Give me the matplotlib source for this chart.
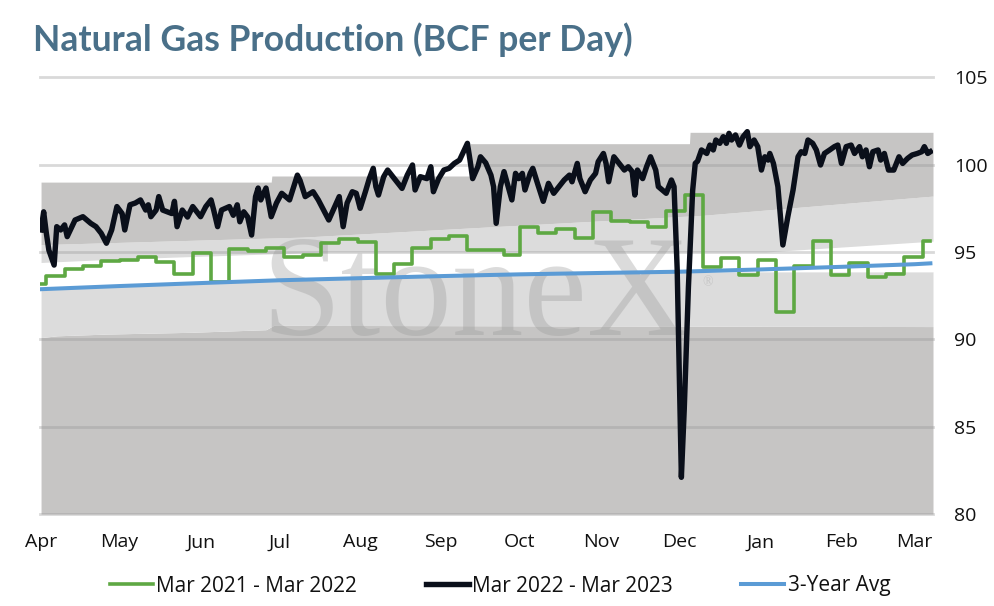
import matplotlib
matplotlib.use("Agg")
import matplotlib.pyplot as plt
import numpy as np

# ---------------- data ----------------
month_labels = ["Apr", "May", "Jun", "Jul", "Aug", "Sep", "Oct", "Nov", "Dec", "Jan", "Feb", "Mar"]
month_days = [0, 30, 61, 91, 122, 153, 183, 214, 244, 275, 306, 334]
y_ticks = [80, 85, 90, 95, 100, 105]

# Mar 2022 - Mar 2023 (daily production, BCF/d), day index from Apr 1
cur_days = [0, 1, 2, 3, 5, 6, 7.5, 9, 10, 13, 16, 19, 21, 23, 25, 27, 29, 31, 32, 34,
            36, 38, 40, 41, 42, 44, 45, 46.5, 50, 51, 52, 54, 56, 58, 61, 63, 65, 66, 67.5, 69,
            72, 73.5, 75, 76, 77.5, 79, 80.5, 82, 83, 84, 86, 88, 90, 92, 95, 98, 99, 101, 104, 106,
            108, 110, 112, 114, 115.5, 117, 119, 120.5, 122, 124, 125.5, 127, 128, 129, 131, 132.5, 136, 138, 140, 142,
            143, 145, 147.5, 149, 150, 152, 154, 156, 158, 160, 163, 164, 165, 167, 168, 170, 172, 173, 174, 175.6,
            177, 180, 181.4, 182.6, 184, 185, 187, 188, 190, 192, 194, 196, 198, 200, 202, 203, 205, 206, 208, 210,
            212, 213, 215, 216, 217, 219, 221, 223, 224.5, 226, 227, 228, 230, 231.5, 233, 235, 236, 239, 241, 242,
            243.2, 244.8, 245.9, 247.5, 249.1, 250.1, 251, 252.5, 254.5, 255.7, 257, 258, 259.5, 260.8, 262, 263, 264, 265.5, 267, 268.4,
            270, 271, 272.6, 274, 275.4, 276.7, 278, 278.6, 280, 281.7, 283.6, 285.5, 287.5, 289.4, 290.6, 292, 293.2, 295, 296.4, 298,
            299.5, 301.5, 303.3, 304.6, 306, 307.8, 309.7, 311, 312.9, 314, 315.4, 316.7, 318, 320, 321, 322.4, 324, 326, 328, 329.4,
            331.3, 333, 335, 336.7, 337.7, 339, 340]
cur_vals = [96.26, 97.3, 96.1, 95.1, 94.25, 96.45, 96.26, 96.55, 95.88, 96.83, 97.02, 96.64, 96.45, 96.07, 95.5, 96.26, 97.6, 97.2, 96.26, 97.7,
            97.8, 97.98, 97.4, 97.7, 97.02, 97.4, 98.17, 97.4, 97.2, 97.9, 96.45, 97.4, 97.0, 97.6, 97.02, 97.6, 97.98, 97.4, 96.45, 97.4,
            97.6, 97.1, 97.7, 96.73, 97.3, 97.0, 95.97, 98.17, 98.66, 97.98, 98.66, 97.02, 97.8, 98.36, 97.98, 99.4, 99.1, 98.17, 98.45, 97.98,
            97.4, 96.83, 97.5, 98.17, 96.45, 97.8, 98.45, 98.36, 97.5, 98.45, 99.2, 99.79, 98.74, 98.26, 99.31, 99.69, 99.02, 98.64, 99.4, 99.98,
            98.55, 99.31, 99.2, 99.88, 98.45, 99.2, 99.69, 99.79, 100.07, 100.26, 101.22, 100.26, 99.2, 99.88, 100.45, 100.1, 99.4, 98.74, 96.64, 98.74,
            99.6, 97.98, 99.5, 99.2, 99.5, 98.55, 99.5, 99.79, 98.83, 97.9, 98.93, 98.36, 98.74, 99.12, 99.4, 99.02, 100.07, 99.2, 98.45, 99.12,
            99.5, 100.17, 100.64, 100.07, 99.02, 100.45, 100.07, 99.69, 99.88, 99.6, 98.26, 99.69, 99.2, 99.88, 100.45, 99.69, 98.74, 98.36, 99.12, 98.74,
            94.0, 82.1, 86.0, 93.0, 98.5, 100.07, 100.2, 100.84, 100.64, 101.12, 100.84, 101.41, 101.22, 101.6, 101.22, 101.79, 101.41, 101.7, 101.12, 101.6,
            101.89, 101.03, 101.41, 101.03, 99.69, 100.45, 100.26, 100.64, 100.07, 98.74, 95.4, 97.02, 98.55, 100.45, 100.74, 100.64, 101.41, 101.22, 100.84, 99.98,
            100.64, 100.84, 101.03, 101.12, 100.07, 101.03, 101.12, 100.64, 101.03, 100.45, 100.84, 99.88, 100.74, 100.84, 100.26, 100.64, 99.69, 99.69, 100.45, 100.07,
            100.36, 100.55, 100.64, 100.74, 101.03, 100.64, 100.74]

# Mar 2021 - Mar 2022 (weekly steps)
prev_days = [0, 2, 9, 16, 23, 30, 37, 44, 51, 58, 65, 72, 79, 86, 93, 100, 107, 114, 121, 128,
             135, 142, 149, 156, 163, 170, 177, 183, 190, 197, 204, 211, 218, 225, 232, 239, 246, 253, 260, 267,
             274, 281, 288, 295, 302, 309, 316, 323, 330, 337, 340]
prev_vals = [93.17, 93.64, 94.0, 94.2, 94.5, 94.55, 94.7, 94.41, 93.74, 94.93, 93.3, 95.17, 95.07, 95.25, 94.7, 94.83, 95.5, 95.74, 95.55, 93.75,
             94.31, 95.25, 95.74, 95.93, 95.1, 95.1, 94.83, 96.45, 96.07, 96.31, 95.82, 97.27, 96.77, 96.72, 96.45, 97.36, 98.26, 94.16, 94.64, 93.68,
             94.54, 91.58, 94.22, 95.6, 93.68, 94.35, 93.55, 93.72, 94.73, 95.6, 95.6]

# 3-year average
avg_days = [0, 30, 61, 91, 122, 153, 183, 214, 244, 275, 306, 334, 340]
avg_vals = [92.87, 93.05, 93.22, 93.38, 93.5, 93.62, 93.72, 93.8, 93.87, 94.0, 94.15, 94.3, 94.35]

# background range bands
band_max_days = [0, 88, 164, 248, 341]
band_max_vals = [99.0, 99.35, 101.2, 101.85, 101.85]
band_upper_days = [0, 100, 173, 253, 341]
band_upper_vals = [95.42, 95.85, 96.45, 97.1, 98.2]
band_mid_days = [0, 30, 90, 110, 277, 341]
band_mid_vals = [94.4, 94.6, 94.9, 95.0, 95.0, 95.62]
band_low_days = [0, 30, 61, 91, 122, 153, 183, 214, 244, 341]
band_low_vals = [92.87, 93.05, 93.22, 93.38, 93.5, 93.62, 93.72, 93.8, 93.87, 93.87]
band_min_days = [0, 6, 25, 57, 86, 89, 341]
band_min_vals = [90.1, 90.2, 90.3, 90.4, 90.55, 90.8, 90.73]

# ---------------- plot ----------------
W, H = 994, 606
fig = plt.figure(figsize=(W / 100, H / 100), dpi=100)
ax = fig.add_axes([40 / W, (H - 514) / H, (933 - 40) / W, (514 - 77.3) / H])

DARK = "#c6c5c4"
LIGHT = "#dcdcdc"

grid_x = np.linspace(0, 341, 1400)
# max band is a step series
mx = np.array([band_max_vals[np.searchsorted(band_max_days, g, side="right") - 1] for g in grid_x])
up = np.interp(grid_x, band_upper_days, band_upper_vals)
md = np.interp(grid_x, band_mid_days, band_mid_vals)
lo = np.interp(grid_x, band_low_days, band_low_vals)
mn = np.interp(grid_x, band_min_days, band_min_vals)

ax.fill_between(grid_x, 80, mn, color=DARK, lw=0, zorder=1)
ax.fill_between(grid_x, mn, lo, color=LIGHT, lw=0, zorder=1)
ax.fill_between(grid_x, lo, md, color="white", lw=0, zorder=1)
ax.fill_between(grid_x, md, up, color=LIGHT, lw=0, zorder=1)
ax.fill_between(grid_x, up, mx, color=DARK, lw=0, zorder=1)

for yv in y_ticks:
    ax.axhline(yv, color="#969696", alpha=0.36, lw=2.0, zorder=2, clip_on=False)

ax.text(0.488, 0.41, "StoneX", transform=ax.transAxes, ha="center", va="baseline",
        fontsize=103, family="Liberation Serif", color="#9a9a9a", alpha=0.35, zorder=3)
ax.text(0.742, 0.53, "®", transform=ax.transAxes, ha="left", va="center",
        fontsize=10, family="Liberation Serif", color="#9a9a9a", alpha=0.35, zorder=3)

ax.step(prev_days, prev_vals, where="post", color="#5ea843", lw=2.6, zorder=4,
        label="Mar 2021 - Mar 2022")
ax.plot(cur_days, cur_vals, color="#0a0f1a", lw=3.9, zorder=6, solid_joinstyle="round",
        label="Mar 2022 - Mar 2023")
ax.plot(avg_days, avg_vals, color="#5b9bd5", lw=2.9, zorder=5, label="3-Year Avg")

ax.set_xlim(-0.4, 341)
ax.set_ylim(80, 105)
for s in ax.spines.values():
    s.set_visible(False)
ax.set_xticks(month_days)
ax.set_xticklabels(month_labels)
ax.set_yticks(y_ticks)
ax.set_yticklabels([str(v) for v in y_ticks])
ax.yaxis.tick_right()
ax.tick_params(axis="both", length=0, labelsize=14, labelcolor="#111111")
ax.tick_params(axis="x", pad=14)
ax.tick_params(axis="y", pad=15)
for lbl in ax.get_xticklabels() + ax.get_yticklabels():
    lbl.set_family("Open Sans")

fig.text(33 / W, 1 - 40 / H, "Natural Gas Production (BCF per Day)", ha="left", va="center",
         fontsize=25.6, fontweight="bold", family="Lato", color="#4a7089")

leg = fig.legend(loc="center", bbox_to_anchor=(0.503, 1 - 586 / H), ncol=3, frameon=False,
                 prop={"family": "Open Sans", "size": 15}, handlelength=2.07, handletextpad=0.15,
                 columnspacing=3.3)
for t in leg.get_texts():
    t.set_color("#111111")

fig.savefig("out.png", dpi=100)
